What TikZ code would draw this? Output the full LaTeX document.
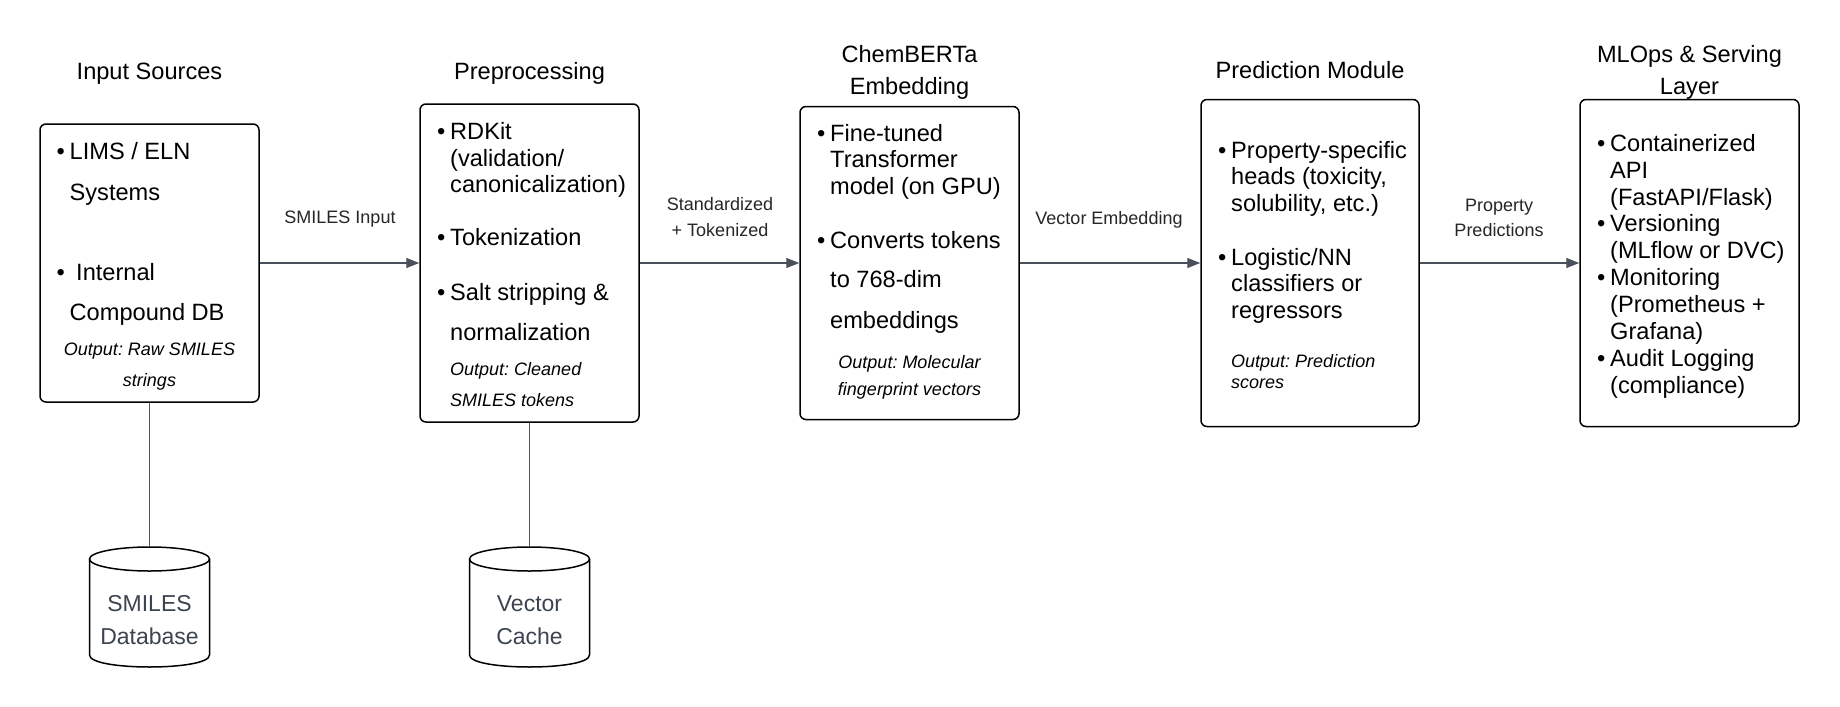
\documentclass[tikz,border=0pt]{standalone}
\usepackage{fontspec}
\setmainfont{Liberation Sans}
\usetikzlibrary{arrows.meta}
\definecolor{arrowgray}{HTML}{4A505C}
\definecolor{linkgray}{HTML}{555555}
\definecolor{dbtext}{HTML}{3D4451}
\frenchspacing
\newcommand\bu{\makebox[13pt][l]{•}}
\newcommand\TL[4]{\node[bt] (#1) at (#2,#3) {#4};}
\begin{document}
\begin{tikzpicture}[x=1pt,y=-1pt,
  box/.style={draw=black, line width=1.5pt, rounded corners=6pt, inner sep=0pt},
  bt/.style={anchor=base west, inner sep=0pt, font=\fontsize{23.6}{28}\selectfont},
  it/.style={inner sep=0pt, font=\fontsize{18}{22}\selectfont\itshape},
  ttl/.style={anchor=base, inner sep=0pt, font=\fontsize{23.6}{28}\selectfont},
  lab/.style={anchor=base, inner sep=0pt, font=\fontsize{18}{22}\selectfont, text=black!85},
  dbt/.style={anchor=base, inner sep=0pt, font=\fontsize{23}{28}\selectfont, text=dbtext},
  arr/.style={draw=arrowgray, line width=1.1pt, -{Triangle[length=13pt,width=10pt]}},
  link/.style={draw=linkgray, line width=1.1pt},
  cyl/.style={draw=black, line width=1.5pt}
]
\useasboundingbox[fill=white] (0,0) rectangle (1840,707);

% titles
\node[ttl] (t1) at (149.5,79.5) {Input Sources};
\node[ttl] (t2) at (529.5,79.5) {Preprocessing};
\node[ttl] (t3a) at (909.5,62.5) {ChemBERTa};
\node[ttl] (t3b) at (909.5,94.5) {Embedding};
\node[ttl] (t4) at (1310,78.5) {Prediction Module};
\node[ttl] (t5a) at (1689.5,62.5) {MLOps \& Serving};
\node[ttl] (t5b) at (1689.5,94.5) {Layer};

% boxes
\node[box, minimum width=219pt, minimum height=278pt] (b1) at (149.5,263) {};
\node[box, minimum width=219pt, minimum height=318pt] (b2) at (529.5,263) {};
\node[box, minimum width=219pt, minimum height=313pt] (b3) at (909.5,263) {};
\node[box, minimum width=218pt, minimum height=327pt] (b4) at (1310,263) {};
\node[box, minimum width=219pt, minimum height=327pt] (b5) at (1689.5,263) {};

% box 1
\TL{a1}{56.5}{159.5}{\bu LIMS / ELN}
\TL{a2}{69.5}{200.5}{Systems}
\TL{a3}{56.5}{280.5}{\makebox[19.5pt][l]{•}Internal}
\TL{a4}{69.5}{320.5}{Compound DB}
\node[it, anchor=base] (a5) at (149.5,355.5) {Output: Raw SMILES};
\node[it, anchor=base] (a6) at (149.5,386.5) {strings};

% box 2
\TL{p1}{437}{139.5}{\bu RDKit}
\TL{p2}{450}{166.5}{(validation/}
\TL{p3}{450}{192.5}{canonicalization)}
\TL{p4}{437}{245.5}{\bu Tokenization}
\TL{p5}{437}{300.5}{\bu Salt stripping \&}
\TL{p6}{450}{340.5}{normalization}
\node[it, anchor=base west] (p7) at (450,375.5) {Output: Cleaned};
\node[it, anchor=base west] (p8) at (450,406.5) {SMILES tokens};

% box 3
\TL{e1}{817}{141.5}{\bu Fine-tuned}
\TL{e2}{830}{167.5}{Transformer}
\TL{e3}{830}{194.5}{model (on GPU)}
\TL{e4}{817}{248.5}{\bu Converts tokens}
\TL{e5}{830}{287.5}{to 768-dim}
\TL{e6}{830}{328.5}{embeddings}
\node[it, anchor=base] (e7) at (909.5,368.5) {Output: Molecular};
\node[it, anchor=base] (e8) at (909.5,395.5) {fingerprint vectors};

% box 4
\TL{r1}{1218}{158.5}{\bu Property-specific}
\TL{r2}{1231}{184.5}{heads (toxicity,}
\TL{r3}{1231}{211.5}{solubility, etc.)}
\TL{r4}{1218}{265.5}{\bu Logistic/NN}
\TL{r5}{1231}{291.5}{classifiers or}
\TL{r6}{1231}{318.5}{regressors}
\node[it, anchor=base west] (r7) at (1231,367.5) {Output: Prediction};
\node[it, anchor=base west] (r8) at (1231,388.5) {scores};

% box 5
\TL{m1}{1597}{151.5}{\bu Containerized}
\TL{m2}{1610}{178.5}{API}
\TL{m3}{1610}{205.5}{(FastAPI/Flask)}
\TL{m4}{1597}{231.5}{\bu Versioning}
\TL{m5}{1610}{258.5}{(MLflow or DVC)}
\TL{m6}{1597}{285.5}{\bu Monitoring}
\TL{m7}{1610}{312.5}{(Prometheus +}
\TL{m8}{1610}{339.5}{Grafana)}
\TL{m9}{1597}{366.5}{\bu Audit Logging}
\TL{m10}{1610}{393.5}{(compliance)}

% arrows
\draw[arr] (b1.east) -- (b2.west);
\draw[arr] (b2.east) -- (b3.west);
\draw[arr] (b3.east) -- (b4.west);
\draw[arr] (b4.east) -- (b5.west);

% arrow labels
\node[lab] (l1) at (340,223.5) {SMILES Input};
\node[lab] (l2a) at (720,210.5) {Standardized};
\node[lab] (l2b) at (720,236.5) {+ Tokenized};
\node[lab] (l3) at (1109,224.5) {Vector Embedding};
\node[lab] (l4a) at (1499,211.5) {Property};
\node[lab] (l4b) at (1499,236.5) {Predictions};

% cylinders
\coordinate (c1top) at (149.5,547);
\draw[cyl] (149.5,559) ellipse [x radius=60, y radius=12];
\draw[cyl] (89.5,559) -- (89.5,655) .. controls (89.5,671) and (209.5,671) .. (209.5,655) -- (209.5,559);
\node[dbt] (c1a) at (149.5,611) {SMILES};
\node[dbt] (c1b) at (149.5,644) {Database};
\draw[link] (b1.south) -- (c1top);

\coordinate (c2top) at (529.5,547);
\draw[cyl] (529.5,559) ellipse [x radius=60, y radius=12];
\draw[cyl] (469.5,559) -- (469.5,655) .. controls (469.5,671) and (589.5,671) .. (589.5,655) -- (589.5,559);
\node[dbt] (c2a) at (529.5,611) {Vector};
\node[dbt] (c2b) at (529.5,644) {Cache};
\draw[link] (b2.south) -- (c2top);
\end{tikzpicture}
\end{document}
